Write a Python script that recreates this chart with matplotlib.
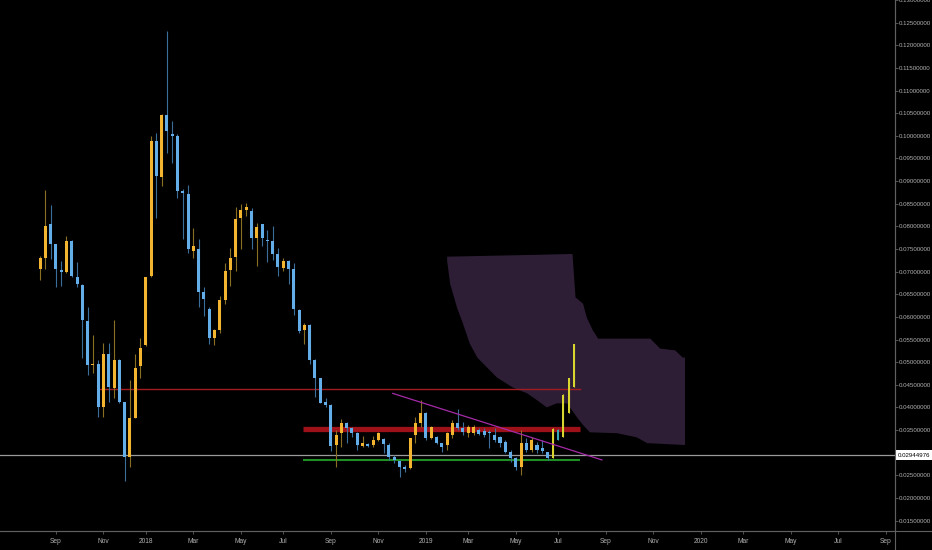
import matplotlib
matplotlib.use('Agg')
import matplotlib.pyplot as plt
import matplotlib.dates as mdates
import matplotlib.transforms as mtransforms
from matplotlib.lines import Line2D
import pandas as pd

# weekly candles, first week starting 2017-08-14
week_start = '2017-08-14'
opens = [0.0706, 0.0731, 0.0806, 0.0761, 0.0704, 0.0700, 0.0768, 0.0689, 0.0671, 0.0592,
         0.0493, 0.0495, 0.0400, 0.0519, 0.0442, 0.0504, 0.0411, 0.0290, 0.0376, 0.0491,
         0.0537, 0.0691, 0.0988, 0.0909, 0.1046, 0.1004, 0.0999, 0.0878, 0.0872, 0.0746,
         0.0750, 0.0654, 0.0618, 0.0554, 0.0570, 0.0638, 0.0704, 0.0733, 0.0819, 0.0836,
         0.0834, 0.0775, 0.0806, 0.0770, 0.0768, 0.0739, 0.0709, 0.0724, 0.0706, 0.0616,
         0.0570, 0.0581, 0.0504, 0.0464, 0.0411, 0.0405, 0.0317, 0.0343, 0.0365, 0.0354,
         0.0343, 0.0314, 0.0319, 0.0317, 0.0328, 0.0330, 0.0317, 0.0290, 0.0281, 0.0268,
         0.0266, 0.0339, 0.0365, 0.0387, 0.0332, 0.0334, 0.0321, 0.0317, 0.0339, 0.0365,
         0.0354, 0.0343, 0.0343, 0.0350, 0.0347, 0.0345, 0.0339, 0.0334, 0.0323, 0.0301,
         0.0288, 0.0268, 0.0321, 0.0306, 0.0317, 0.0310, 0.0301, 0.0288, 0.0350, 0.0334,
         0.0387, 0.0444]
highs = [0.0735, 0.0880, 0.0847, 0.0761, 0.0724, 0.0779, 0.0770, 0.0722, 0.0673, 0.0621,
         0.0561, 0.0504, 0.0543, 0.0543, 0.0594, 0.0508, 0.0411, 0.0460, 0.0517, 0.0554,
         0.0689, 0.0999, 0.1006, 0.1048, 0.1231, 0.1032, 0.1004, 0.0883, 0.0891, 0.0797,
         0.0772, 0.0665, 0.0621, 0.0574, 0.0647, 0.0720, 0.0753, 0.0843, 0.0850, 0.0852,
         0.0841, 0.0808, 0.0806, 0.0792, 0.0801, 0.0753, 0.0731, 0.0726, 0.0720, 0.0618,
         0.0587, 0.0585, 0.0506, 0.0464, 0.0420, 0.0407, 0.0350, 0.0374, 0.0367, 0.0356,
         0.0345, 0.0336, 0.0321, 0.0336, 0.0345, 0.0332, 0.0321, 0.0295, 0.0284, 0.0272,
         0.0332, 0.0378, 0.0416, 0.0389, 0.0358, 0.0336, 0.0321, 0.0345, 0.0372, 0.0396,
         0.0367, 0.0361, 0.0361, 0.0354, 0.0354, 0.0350, 0.0354, 0.0336, 0.0328, 0.0306,
         0.0290, 0.0350, 0.0332, 0.0334, 0.0323, 0.0328, 0.0301, 0.0354, 0.0352, 0.0429,
         0.0466, 0.0541]
lows = [0.0682, 0.0706, 0.0728, 0.0665, 0.0669, 0.0698, 0.0689, 0.0665, 0.0510, 0.0471,
        0.0475, 0.0378, 0.0378, 0.0411, 0.0420, 0.0409, 0.0237, 0.0268, 0.0376, 0.0464,
        0.0535, 0.0689, 0.0819, 0.0889, 0.0962, 0.0940, 0.0863, 0.0772, 0.0742, 0.0731,
        0.0621, 0.0603, 0.0541, 0.0537, 0.0565, 0.0629, 0.0669, 0.0702, 0.0750, 0.0823,
        0.0750, 0.0713, 0.0757, 0.0722, 0.0726, 0.0691, 0.0702, 0.0673, 0.0605, 0.0565,
        0.0541, 0.0497, 0.0422, 0.0409, 0.0400, 0.0303, 0.0268, 0.0312, 0.0321, 0.0334,
        0.0306, 0.0312, 0.0312, 0.0312, 0.0325, 0.0299, 0.0284, 0.0277, 0.0246, 0.0257,
        0.0264, 0.0321, 0.0356, 0.0328, 0.0330, 0.0319, 0.0301, 0.0306, 0.0332, 0.0350,
        0.0339, 0.0334, 0.0339, 0.0339, 0.0334, 0.0310, 0.0323, 0.0312, 0.0299, 0.0279,
        0.0261, 0.0250, 0.0301, 0.0301, 0.0299, 0.0299, 0.0284, 0.0288, 0.0328, 0.0334,
        0.0387, 0.0444]
closes = [0.0731, 0.0801, 0.0761, 0.0706, 0.0700, 0.0768, 0.0691, 0.0673, 0.0594, 0.0493,
          0.0495, 0.0400, 0.0519, 0.0444, 0.0504, 0.0413, 0.0290, 0.0376, 0.0488, 0.0532,
          0.0689, 0.0988, 0.0911, 0.1046, 0.1010, 0.0999, 0.0878, 0.0874, 0.0750, 0.0757,
          0.0654, 0.0640, 0.0554, 0.0570, 0.0638, 0.0702, 0.0731, 0.0817, 0.0836, 0.0843,
          0.0775, 0.0799, 0.0775, 0.0768, 0.0739, 0.0711, 0.0724, 0.0706, 0.0618, 0.0568,
          0.0583, 0.0504, 0.0464, 0.0409, 0.0405, 0.0314, 0.0339, 0.0365, 0.0354, 0.0343,
          0.0317, 0.0321, 0.0314, 0.0328, 0.0343, 0.0319, 0.0290, 0.0284, 0.0268, 0.0264,
          0.0332, 0.0365, 0.0387, 0.0332, 0.0356, 0.0321, 0.0312, 0.0343, 0.0365, 0.0354,
          0.0345, 0.0356, 0.0356, 0.0341, 0.0339, 0.0343, 0.0328, 0.0321, 0.0301, 0.0288,
          0.0268, 0.0321, 0.0306, 0.0328, 0.0306, 0.0303, 0.0288, 0.0352, 0.0328, 0.0427,
          0.0464, 0.0539]
last_price = 0.02944976

# projected zone (purple cloud)
cloud_upper_dates = ['2019-02-04', '2019-05-29', '2019-07-20', '2019-07-24', '2019-08-03',
                     '2019-08-08', '2019-08-16', '2019-08-23', '2019-10-31', '2019-11-13',
                     '2019-12-03', '2019-12-13', '2019-12-16']
cloud_upper = [0.0733, 0.0737, 0.0739, 0.0643, 0.0629, 0.0598, 0.0570, 0.0552, 0.0552,
               0.0530, 0.0526, 0.0510, 0.0510]
cloud_lower_dates = ['2019-02-04', '2019-02-08', '2019-02-17', '2019-02-25', '2019-03-06',
                     '2019-03-16', '2019-03-29', '2019-04-11', '2019-05-02', '2019-05-21',
                     '2019-06-03', '2019-06-16', '2019-06-29', '2019-07-13', '2019-07-26',
                     '2019-08-03', '2019-08-12', '2019-09-17', '2019-10-13', '2019-10-27',
                     '2019-12-16']
cloud_lower = [0.0724, 0.0673, 0.0621, 0.0585, 0.0541, 0.0510, 0.0488, 0.0466, 0.0444,
               0.0431, 0.0416, 0.0400, 0.0409, 0.0409, 0.0378, 0.0361, 0.0345, 0.0343,
               0.0334, 0.0321, 0.0317]

# drawn levels
resistance_thin = 0.0441
resistance_thin_dates = ['2017-11-01', '2019-07-30']
resistance_band = 0.0353
support = 0.0284
zone_dates = ['2018-07-28', '2019-07-30']
trend_dates = ['2018-11-24', '2019-08-28']
trend_vals = [0.0431, 0.0284]

tick_months = ['2017-09', '2017-11', '2018-01', '2018-03', '2018-05', '2018-07', '2018-09',
               '2018-11', '2019-01', '2019-03', '2019-05', '2019-07', '2019-09', '2019-11',
               '2020-01', '2020-03', '2020-05', '2020-07', '2020-09']
tick_labels = ['Sep', 'Nov', '2018', 'Mar', 'May', 'Jul', 'Sep', 'Nov', '2019', 'Mar',
               'May', 'Jul', 'Sep', 'Nov', '2020', 'Mar', 'May', 'Jul', 'Sep']
y_ticks = [0.015, 0.020, 0.025, 0.035, 0.040, 0.045, 0.050, 0.055, 0.060, 0.065, 0.070,
           0.075, 0.080, 0.085, 0.090, 0.095, 0.100, 0.105, 0.110, 0.115, 0.120, 0.125, 0.130]

plt.rcParams['font.family'] = ['Liberation Sans', 'DejaVu Sans']

bg = '#000000'
txt = '#b0b0b0'
axis_col = '#606060'

fig = plt.figure(figsize=(9.32, 5.5), dpi=100, facecolor=bg)
ax = fig.add_axes([0, 19 / 550, 895 / 932, 531 / 550])
ax.set_facecolor(bg)

dates = pd.date_range(week_start, periods=len(opens), freq='7D')
xd = mdates.date2num(dates)

# cloud
cu_x = list(mdates.date2num(pd.to_datetime(cloud_upper_dates)))
cl_x = list(mdates.date2num(pd.to_datetime(cloud_lower_dates)))
ax.fill(cu_x + cl_x[::-1], cloud_upper + cloud_lower[::-1],
        color='#2d1e36', lw=0, zorder=1)

# levels
rt = mdates.date2num(pd.to_datetime(resistance_thin_dates))
zd = mdates.date2num(pd.to_datetime(zone_dates))
ax.plot(rt, [resistance_thin] * 2, color='#a01c1f', lw=1.0, zorder=2)
ax.plot(zd, [resistance_band] * 2, color='#b0141b', lw=3.8, alpha=0.9, zorder=2,
        solid_capstyle='butt')
ax.plot(zd, [support] * 2, color='#1f8f25', lw=1.5, zorder=2, solid_capstyle='butt')

# current price line
ax.axhline(last_price, color='#9a9a9a', lw=0.9, zorder=2)

# candles
hl_from = 97
for i in range(len(opens)):
    o, h, l, c = opens[i], highs[i], lows[i], closes[i]
    up = c >= o
    if i >= hl_from:
        body = '#d8d52e' if up else '#35a8b8'
        wick = body
        w = 2.6
    else:
        body = '#f3b52f' if up else '#63aee8'
        wick = '#8a6f22' if up else '#3b6f99'
        w = 4.0
    ax.vlines(xd[i], l, h, color=wick, lw=0.8, zorder=3)
    lo, hi = min(o, c), max(o, c)
    hgt = max(hi - lo, 0.00022)
    ax.bar(xd[i], hgt, width=w, bottom=lo, color=body, lw=0, zorder=4)

# trend line
td = mdates.date2num(pd.to_datetime(trend_dates))
ax.plot(td, trend_vals, color='#a52ba8', lw=0.9, zorder=5)

# axes limits
ax.set_xlim(xd[0] - 53, xd[0] + 1132)
ax.set_ylim(0.0127, 0.1300)

# x ticks on first Monday of each month
tick_pos = []
for m in tick_months:
    d = pd.Timestamp(m + '-01')
    while d.weekday() != 0:
        d += pd.Timedelta(days=1)
    tick_pos.append(mdates.date2num(d))
ax.set_xticks(tick_pos)
ax.set_xticklabels(tick_labels)

ax.yaxis.tick_right()
ax.set_yticks(y_ticks)
ax.set_yticklabels(['%.8f' % v for v in y_ticks])

ax.tick_params(axis='y', colors=axis_col, labelcolor=txt, labelsize=4.4,
               length=2, width=0.6, pad=1)
ax.tick_params(axis='x', colors=axis_col, labelcolor=txt, labelsize=4.8,
               length=2, width=0.6, pad=3)
for s in ['top', 'left']:
    ax.spines[s].set_visible(False)
for s in ['right', 'bottom']:
    ax.spines[s].set_color(axis_col)
    ax.spines[s].set_linewidth(0.8)

# extend axis lines to the figure edges
fig.add_artist(Line2D([895 / 932, 895 / 932], [0, 1], color=axis_col, lw=0.8,
                      transform=fig.transFigure))
fig.add_artist(Line2D([0, 1], [19 / 550, 19 / 550], color=axis_col, lw=0.8,
                      transform=fig.transFigure))

# last price label
trans = mtransforms.blended_transform_factory(ax.transAxes, ax.transData)
ax.text(1.003, last_price, '%.8f' % last_price, transform=trans, fontsize=4.4,
        color='#000000', va='center', ha='left', clip_on=False, zorder=10,
        bbox=dict(boxstyle='square,pad=0.45', fc='#ffffff', ec='none'))

fig.savefig('out.png', dpi=100, facecolor=bg)
